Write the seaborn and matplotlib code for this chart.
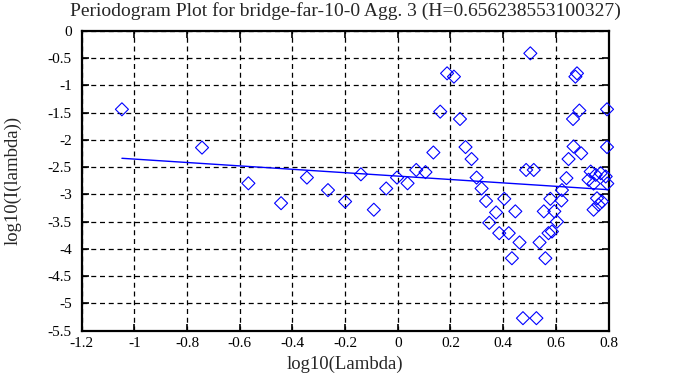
import matplotlib
matplotlib.use("Agg")
import matplotlib.pyplot as plt
import seaborn as sns
import pandas as pd
from matplotlib.ticker import FuncFormatter, MultipleLocator

sns.set_theme(style="white")
plt.rcParams['font.family'] = ['Liberation Serif', 'DejaVu Serif']
plt.rcParams['axes.unicode_minus'] = False

title = "Periodogram Plot for bridge-far-10-0 Agg. 3 (H=0.656238553100327)"

log_lambda = [-1.047, -0.743, -0.567, -0.443, -0.345, -0.265, -0.200, -0.140,
              -0.091, -0.044, -0.003, 0.037, 0.070, 0.105, 0.135, 0.161,
              0.187, 0.213, 0.236, 0.257, 0.280, 0.299, 0.318, 0.335,
              0.347, 0.404, 0.373, 0.446, 0.385, 0.421, 0.462, 0.433,
              0.475, 0.526, 0.560, 0.538, 0.572, 0.585, 0.604, 0.554,
              0.594, 0.579, 0.621, 0.503, 0.680, 0.674, 0.689, 0.665,
              0.794, 0.667, 0.696, 0.648, 0.794, 0.487, 0.516, 0.640,
              0.623, 0.732, 0.751, 0.770, 0.789, 0.795, 0.724, 0.743,
              0.756, 0.775, 0.762, 0.743]
log_I = [-1.437, -2.14, -2.795, -3.16, -2.69, -2.92, -3.13, -2.63,
         -3.28, -2.89, -2.69, -2.795, -2.55, -2.59, -2.23, -1.48,
         -0.777, -0.838, -1.615, -2.13, -2.35, -2.69, -2.89, -3.12,
         -3.52, -3.08, -3.33, -3.31, -3.71, -3.71, -3.88, -4.17,
         -5.27, -5.27, -4.17, -3.88, -3.71, -3.68, -3.50, -3.31,
         -3.31, -3.08, -3.11, -0.41, -0.777, -0.838, -1.46, -1.615,
         -1.437, -2.12, -2.245, -2.35, -2.13, -2.55, -2.55, -2.70,
         -2.92, -2.58, -2.64, -2.61, -2.67, -2.80, -2.73, -2.80,
         -3.07, -3.13, -3.19, -3.28]

fit_x = [-1.047, 0.795]
fit_y = [-2.336, -2.911]

df = pd.DataFrame({"x": log_lambda, "y": log_I})
fit = pd.DataFrame({"x": fit_x, "y": fit_y})

W, H = 678, 387
ax_left, ax_right, ax_top, ax_bottom = 81.6, 608.6, 31.0, 330.7

fig = plt.figure(figsize=(W / 100, H / 100), dpi=100)
ax = fig.add_axes([ax_left / W, 1 - ax_bottom / H,
                   (ax_right - ax_left) / W, (ax_bottom - ax_top) / H])

sns.scatterplot(data=df, x="x", y="y", marker="D", s=44, facecolors="none",
                edgecolor="#0000ff", linewidth=0.8, ax=ax, zorder=3,
                clip_on=False)
sns.lineplot(data=fit, x="x", y="y", color="#0000ff", linewidth=1.0, ax=ax,
             zorder=4, estimator=None, sort=False)

ax.set_xlim(-1.2, 0.8)
ax.set_ylim(-5.5, 0)
ax.xaxis.set_major_locator(MultipleLocator(0.2))
ax.yaxis.set_major_locator(MultipleLocator(0.5))
fmt = FuncFormatter(lambda v, p: "%g" % round(v, 3))
ax.xaxis.set_major_formatter(fmt)
ax.yaxis.set_major_formatter(fmt)

ax.grid(True, color="black", linestyle=(0, (4, 3)), linewidth=0.9)
ax.tick_params(direction="in", length=5, width=1.2, top=True, right=True,
               bottom=True, left=True, labelsize=11, colors="black")
ax.tick_params(axis="x", pad=4.5)
ax.tick_params(axis="y", pad=7)
for sp in ax.spines.values():
    sp.set_linewidth(1.6)
    sp.set_color("black")

ax.set_title(title, fontsize=14, pad=11)
ax.set_xlabel("log10(Lambda)", fontsize=13.5)
ax.set_ylabel("log10(I(lambda))", fontsize=13.5)
ax.xaxis.set_label_coords(0.5, -(356 - ax_bottom) / (ax_bottom - ax_top))
ax.yaxis.set_label_coords(-(ax_left - 22) / (ax_right - ax_left), 0.5)

fig.savefig("out.png", dpi=100)
